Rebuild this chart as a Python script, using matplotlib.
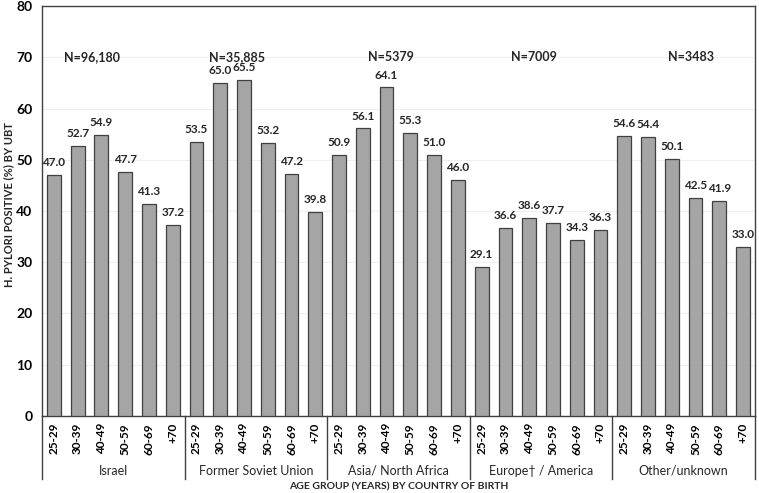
import matplotlib.pyplot as plt
import numpy as np

plt.rcParams['font.family'] = ['Lato', 'DejaVu Sans']

# data
groups = ["Israel", "Former Soviet Union", "Asia/ North Africa", "Europe\u2020 / America", "Other/unknown"]
ages = ["25-29", "30-39", "40-49", "50-59", "60-69", "+70"]
israel = [47.0, 52.7, 54.9, 47.7, 41.3, 37.2]
fsu = [53.5, 65.0, 65.5, 53.2, 47.2, 39.8]
asia = [50.9, 56.1, 64.1, 55.3, 51.0, 46.0]
europe = [29.1, 36.6, 38.6, 37.7, 34.3, 36.3]
other = [54.6, 54.4, 50.1, 42.5, 41.9, 33.0]
n_labels = ["N=96,180", "N=35,885", "N=5379", "N=7009", "N=3483"]
n_pos = [1.6, 7.7, 14.2, 20.2, 26.8]

values = israel + fsu + asia + europe + other
ticklabels = ages * len(groups)
x = np.arange(len(values))

fig = plt.figure(figsize=(7.59, 4.93), dpi=100)
ax = fig.add_axes([0.0553, 0.1562, 0.9394, 0.8316])

ax.bar(x, values, width=0.58, color="#a5a5a5", edgecolor="#404040", linewidth=0.9, zorder=3)
for xi, v in zip(x, values):
    ax.annotate(f"{v:.1f}", (xi, v), xytext=(0, 5), textcoords="offset points",
                ha="center", va="bottom", fontsize=8.5, fontweight="bold", color="#262626")

for p, t in zip(n_pos, n_labels):
    ax.text(p, 70, t, ha="center", va="center", fontsize=9, fontweight="bold", color="#262626")

ax.set_xlim(-0.5, len(values) - 0.5)
ax.set_ylim(0, 80)
ax.set_yticks(np.arange(0, 81, 10))
ax.tick_params(axis="y", length=0, labelsize=10, pad=7)
for lab in ax.get_yticklabels():
    lab.set_fontweight("bold")
ax.yaxis.grid(True, color="#efefef", linewidth=0.8, zorder=0)

ax.set_xticks(x)
ax.set_xticklabels(ticklabels, rotation=90, fontsize=8.5, fontweight="bold")
ax.tick_params(axis="x", length=0, pad=5)

for s in ax.spines.values():
    s.set_color("#404040")
    s.set_linewidth(1.0)

# group separators and labels below the axis
trans = ax.get_xaxis_transform()
for b in np.arange(-0.5, len(values), 6):
    ax.plot([b, b], [0, -0.153], transform=trans, color="#404040", linewidth=1.0, clip_on=False)
for i, g in enumerate(groups):
    ax.text(i * 6 + 2.5, -0.133, g, transform=trans, ha="center", va="center", fontsize=9, color="#262626")

fig.text(0.011, 0.585, "H. PYLORI POSITIVE (%) BY UBT", rotation=90, ha="center", va="center",
         fontsize=8, fontweight="bold", color="#262626")
fig.text(0.525, 0.012, "AGE GROUP (YEARS) BY COUNTRY OF BIRTH", ha="center", va="center",
         fontsize=7.5, fontweight="bold", color="#262626")

fig.savefig("out.png", dpi=100)
